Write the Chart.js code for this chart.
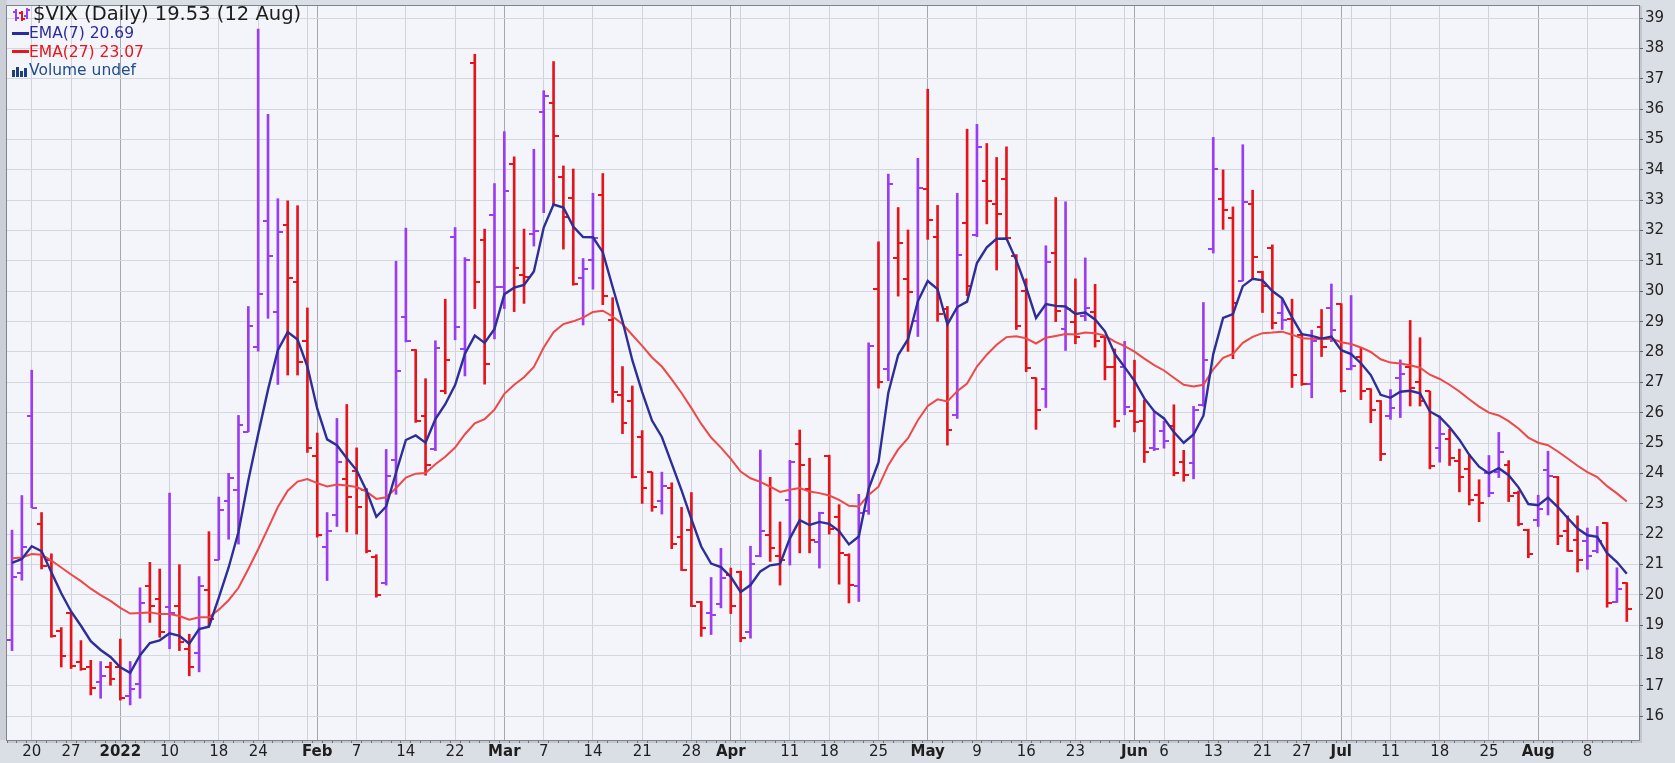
<!DOCTYPE html>
<html lang="en">
<head>
<meta charset="utf-8">
<title>$VIX (Daily)</title>
<script src="https://cdn.jsdelivr.net/npm/chart.js@4.4.1/dist/chart.umd.min.js"></script>
<style>
  html, body { margin: 0; padding: 0; background: #dadee5; }
  #wrap { position: relative; width: 1675px; height: 763px; overflow: hidden; }
  #vixChart { position: absolute; left: 0; top: 0; }
  .leg { position: absolute; white-space: nowrap; font-family: "DejaVu Sans", sans-serif; }
  #legTitle { left: 33px; top: 3px; font-size: 19.5px; line-height: 22px; color: #1c1c1c; }
  #legEma7 { left: 29px; top: 24px; font-size: 15.5px; line-height: 18px; color: #2c2c9e; }
  #legEma27 { left: 29px; top: 42.5px; font-size: 15.5px; line-height: 18px; color: #e3171c; }
  #legVol { left: 29px; top: 61px; font-size: 15.5px; line-height: 18px; color: #1f4d8c; }
  .dash { position: absolute; left: 12px; width: 17px; height: 3px; }
  .icon { position: absolute; }
</style>
</head>
<body>
<div id="wrap">
  <canvas id="vixChart" width="1675" height="763"></canvas>

  <svg class="icon" style="left:12px;top:8px" width="18" height="14" viewBox="0 0 18 14">
    <g stroke-width="2" fill="none">
      <path stroke="#9a3cf2" d="M4 1v12M1 4h3M4 10h3"/>
      <path stroke="#e5141b" d="M10 3v10M7 5h3M10 11h3"/>
      <path stroke="#9a3cf2" d="M15 0v11M12 8h3M15 2h3"/>
    </g>
  </svg>
  <div class="leg" id="legTitle"></div>

  <div class="dash" style="top:31.5px;background:#2c2c9e"></div>
  <div class="leg" id="legEma7"></div>

  <div class="dash" style="top:50px;background:#e3171c"></div>
  <div class="leg" id="legEma27"></div>

  <svg class="icon" style="left:12px;top:66px" width="17" height="11" viewBox="0 0 17 11">
    <g fill="#1f3f7a">
      <rect x="0" y="4" width="3" height="7"/>
      <rect x="4" y="1" width="3" height="10"/>
      <rect x="8" y="5" width="3" height="6"/>
      <rect x="12" y="2" width="3" height="9"/>
    </g>
  </svg>
  <div class="leg" id="legVol">Volume undef</div>
</div>

<script>
// trading days shown on the chart
const dates = [
  '2021-12-16','2021-12-17','2021-12-20','2021-12-21','2021-12-22','2021-12-23','2021-12-27','2021-12-28','2021-12-29','2021-12-30','2021-12-31',
  '2022-01-03','2022-01-04','2022-01-05','2022-01-06','2022-01-07','2022-01-10','2022-01-11','2022-01-12','2022-01-13','2022-01-14',
  '2022-01-18','2022-01-19','2022-01-20','2022-01-21','2022-01-24','2022-01-25','2022-01-26','2022-01-27','2022-01-28','2022-01-31',
  '2022-02-01','2022-02-02','2022-02-03','2022-02-04','2022-02-07','2022-02-08','2022-02-09','2022-02-10','2022-02-11','2022-02-14',
  '2022-02-15','2022-02-16','2022-02-17','2022-02-18','2022-02-22','2022-02-23','2022-02-24','2022-02-25','2022-02-28',
  '2022-03-01','2022-03-02','2022-03-03','2022-03-04','2022-03-07','2022-03-08','2022-03-09','2022-03-10','2022-03-11','2022-03-14',
  '2022-03-15','2022-03-16','2022-03-17','2022-03-18','2022-03-21','2022-03-22','2022-03-23','2022-03-24','2022-03-25','2022-03-28',
  '2022-03-29','2022-03-30','2022-03-31',
  '2022-04-01','2022-04-04','2022-04-05','2022-04-06','2022-04-07','2022-04-08','2022-04-11','2022-04-12','2022-04-13','2022-04-14',
  '2022-04-18','2022-04-19','2022-04-20','2022-04-21','2022-04-22','2022-04-25','2022-04-26','2022-04-27','2022-04-28','2022-04-29',
  '2022-05-02','2022-05-03','2022-05-04','2022-05-05','2022-05-06','2022-05-09','2022-05-10','2022-05-11','2022-05-12','2022-05-13',
  '2022-05-16','2022-05-17','2022-05-18','2022-05-19','2022-05-20','2022-05-23','2022-05-24','2022-05-25','2022-05-26','2022-05-27','2022-05-31',
  '2022-06-01','2022-06-02','2022-06-03','2022-06-06','2022-06-07','2022-06-08','2022-06-09','2022-06-10','2022-06-13','2022-06-14',
  '2022-06-15','2022-06-16','2022-06-17','2022-06-21','2022-06-22','2022-06-23','2022-06-24','2022-06-27','2022-06-28','2022-06-29','2022-06-30',
  '2022-07-01','2022-07-05','2022-07-06','2022-07-07','2022-07-08','2022-07-11','2022-07-12','2022-07-13','2022-07-14','2022-07-15',
  '2022-07-18','2022-07-19','2022-07-20','2022-07-21','2022-07-22','2022-07-25','2022-07-26','2022-07-27','2022-07-28','2022-07-29',
  '2022-08-01','2022-08-02','2022-08-03','2022-08-04','2022-08-05','2022-08-08','2022-08-09','2022-08-10','2022-08-11','2022-08-12'
];

// one row per month (Dec .. Aug)
const opens = [
  18.50, 20.72, 25.90, 22.32, 21.15, 18.82, 19.39, 17.80, 17.62, 17.13, 17.62,
  17.62, 16.65, 17.05, 20.30, 19.87, 19.60, 19.63, 18.22, 18.09, 20.15, 21.15, 23.09, 23.46, 25.37, 28.18, 32.30, 29.33, 32.20, 30.30, 28.37,
  24.58, 21.56, 22.63, 23.81, 24.09, 23.46, 21.26, 20.38, 24.44, 29.15, 28.08, 25.90, 24.81, 26.70, 31.80, 28.10, 37.51, 31.69, 32.50,
  30.14, 34.20, 30.53, 31.90, 35.91, 36.20, 33.75, 33.06, 30.44, 31.04, 33.17, 29.07, 26.57, 26.40, 25.20, 24.04, 23.09, 23.53, 21.89, 22.15, 19.76, 19.40, 19.69,
  20.65, 20.75, 18.78, 21.28, 21.98, 21.28, 23.12, 24.97, 23.47, 21.75, 24.56, 22.56, 21.31, 20.28, 22.75, 30.09, 27.43, 31.11, 30.40, 29.01,
  33.38, 31.80, 29.43, 25.93, 32.24, 31.86, 33.65, 32.87, 33.71, 31.15, 30.01, 27.13, 26.78, 31.26, 28.76, 28.98, 29.20, 29.33, 28.49, 27.50, 27.51,
  26.07, 25.74, 24.85, 25.39, 25.55, 24.39, 24.33, 26.26, 31.39, 33.05, 32.43, 30.34, 32.89, 30.63, 31.42, 29.28, 29.09, 28.55, 26.95, 28.83, 29.45,
  29.57, 27.45, 27.82, 26.78, 26.40, 25.90, 27.14, 27.52, 27.00, 26.70, 24.84, 25.13, 24.42, 24.15, 23.30, 24.00, 24.04, 24.26, 23.36, 22.14,
  22.47, 24.10, 23.88, 22.09, 21.82, 21.76, 21.43, 22.36, 19.77, 20.38
];
const highs = [
  22.13, 23.27, 27.40, 22.71, 21.35, 18.92, 19.41, 18.49, 17.84, 17.80, 17.78,
  18.54, 17.80, 20.23, 21.07, 20.85, 23.35, 20.99, 18.70, 20.60, 22.08, 23.22, 24.00, 25.91, 29.50, 38.64, 35.83, 33.05, 32.98, 32.82, 29.45,
  25.33, 22.71, 25.81, 26.27, 24.84, 23.50, 21.32, 24.79, 30.99, 32.08, 28.08, 27.12, 28.37, 29.74, 32.10, 31.11, 37.81, 32.05, 33.55,
  35.26, 34.43, 32.05, 34.68, 36.61, 37.57, 34.13, 34.03, 31.08, 33.23, 33.88, 29.79, 27.52, 26.88, 25.41, 24.04, 24.04, 23.69, 22.88, 23.37, 19.78, 20.57, 21.53,
  20.88, 20.78, 21.60, 24.77, 23.87, 22.40, 24.43, 25.43, 24.50, 22.72, 24.60, 22.97, 21.35, 23.31, 28.30, 31.63, 33.86, 32.76, 32.02, 34.38,
  36.66, 32.83, 29.50, 33.23, 35.34, 35.50, 34.87, 34.41, 34.76, 31.21, 30.41, 27.15, 31.50, 33.09, 32.95, 30.41, 31.10, 30.23, 28.54, 28.10, 28.35,
  27.73, 26.42, 26.04, 25.72, 26.26, 24.76, 26.21, 29.63, 35.07, 34.00, 32.78, 34.83, 33.33, 30.66, 31.53, 29.74, 29.74, 28.61, 28.72, 29.40, 30.24,
  29.59, 29.86, 28.12, 26.79, 26.40, 26.76, 27.74, 29.04, 28.47, 26.71, 25.89, 25.46, 24.80, 24.62, 23.79, 24.59, 25.35, 24.42, 23.42, 22.16,
  23.28, 24.73, 23.90, 22.60, 22.60, 22.20, 22.25, 22.38, 20.89, 20.40
];
const lows = [
  18.16, 20.48, 22.87, 20.85, 18.60, 17.62, 17.57, 17.51, 16.70, 16.59, 17.02,
  16.53, 16.37, 16.59, 19.09, 18.60, 18.22, 18.16, 17.33, 17.46, 18.98, 21.15, 21.83, 21.67, 25.37, 28.03, 29.11, 26.93, 27.24, 27.24, 24.69,
  21.90, 20.47, 22.25, 22.07, 22.00, 21.38, 19.92, 20.32, 23.31, 28.33, 25.68, 23.94, 24.75, 26.62, 28.40, 27.21, 29.43, 26.94, 28.43,
  29.43, 29.33, 29.60, 31.49, 32.59, 32.85, 31.39, 30.20, 28.89, 30.07, 29.56, 26.34, 25.31, 23.85, 23.01, 22.75, 22.66, 21.52, 20.80, 19.61, 18.63, 18.69, 19.57,
  19.38, 18.45, 18.57, 21.25, 21.10, 20.32, 20.98, 21.38, 21.38, 20.88, 22.00, 20.35, 19.73, 19.78, 22.65, 26.81, 27.05, 29.84, 28.02, 28.51,
  31.71, 29.01, 24.93, 25.81, 29.85, 31.80, 32.22, 30.70, 31.70, 28.74, 27.35, 25.45, 26.17, 29.00, 28.05, 28.27, 29.03, 28.16, 27.08, 25.52, 25.93,
  25.37, 24.36, 24.75, 24.83, 23.92, 23.74, 23.82, 26.21, 31.26, 32.04, 27.78, 30.34, 30.41, 29.30, 28.76, 28.74, 26.83, 26.90, 26.49, 27.85, 28.34,
  26.68, 27.41, 26.43, 25.67, 24.42, 25.78, 25.84, 26.22, 26.22, 24.15, 24.37, 24.26, 23.39, 22.96, 22.41, 23.23, 23.86, 23.07, 22.27, 21.22,
  22.25, 22.63, 21.65, 21.43, 20.75, 20.84, 21.38, 19.59, 19.75, 19.12
];
const closes = [
  20.57, 21.57, 22.87, 20.95, 18.65, 17.98, 17.65, 17.56, 16.93, 17.33, 17.24,
  16.60, 16.89, 19.73, 19.63, 18.76, 19.40, 18.43, 17.62, 20.30, 19.19, 22.80, 23.85, 25.60, 28.87, 29.90, 31.15, 31.95, 30.45, 27.68, 24.84,
  21.97, 22.09, 24.37, 23.21, 22.88, 21.44, 20.00, 23.91, 27.37, 28.35, 25.71, 24.29, 28.12, 27.75, 28.81, 31.02, 30.32, 27.59, 30.15,
  33.32, 30.76, 30.48, 31.98, 36.45, 35.13, 32.45, 30.23, 30.75, 31.77, 29.83, 26.67, 25.67, 23.87, 23.53, 22.90, 23.57, 21.67, 20.81, 19.63, 18.90, 19.33, 20.56,
  19.63, 18.57, 21.03, 22.10, 21.55, 21.16, 24.37, 24.26, 21.82, 22.70, 22.17, 21.37, 20.32, 22.68, 28.21, 27.02, 33.52, 31.60, 29.99, 33.40,
  32.34, 29.25, 25.42, 31.20, 30.19, 34.75, 32.99, 32.56, 31.77, 28.87, 27.47, 26.10, 30.96, 29.35, 29.43, 28.48, 29.45, 28.37, 27.50, 25.72, 26.19,
  25.69, 24.72, 24.79, 25.07, 24.02, 23.96, 26.09, 27.75, 34.02, 32.69, 29.62, 32.95, 31.13, 30.19, 28.95, 29.05, 27.23, 26.95, 28.36, 28.16, 28.71,
  26.70, 27.54, 26.73, 26.08, 24.64, 26.17, 27.29, 26.82, 26.40, 24.23, 25.30, 24.50, 23.88, 23.11, 23.03, 23.36, 24.69, 23.24, 22.33, 21.33,
  22.84, 23.93, 21.95, 21.44, 21.15, 21.29, 21.77, 19.74, 20.20, 19.53
];
const ema7 = [
  21.05, 21.18, 21.60, 21.44, 20.74, 20.05, 19.45, 18.98, 18.47, 18.18, 17.95,
  17.61, 17.43, 18.01, 18.41, 18.50, 18.73, 18.65, 18.39, 18.87, 18.95, 19.91, 20.90, 22.07, 23.77, 25.30, 26.76, 28.06, 28.66, 28.41, 27.52,
  26.13, 25.12, 24.93, 24.50, 24.10, 23.43, 22.57, 22.91, 24.02, 25.10, 25.25, 25.01, 25.79, 26.28, 26.91, 27.94, 28.54, 28.30, 28.76,
  29.90, 30.12, 30.21, 30.65, 32.10, 32.86, 32.76, 32.13, 31.79, 31.78, 31.29, 30.14, 29.02, 27.73, 26.68, 25.74, 25.20, 24.32, 23.44, 22.49, 21.59, 21.03, 20.91,
  20.59, 20.09, 20.32, 20.77, 20.97, 21.02, 21.86, 22.46, 22.30, 22.40, 22.34, 22.10, 21.66, 21.92, 23.49, 24.37, 26.66, 27.90, 28.42, 29.67,
  30.34, 30.07, 28.91, 29.48, 29.66, 30.93, 31.45, 31.73, 31.74, 31.02, 30.13, 29.12, 29.58, 29.52, 29.50, 29.25, 29.30, 29.07, 28.68, 27.94, 27.50,
  27.05, 26.47, 26.05, 25.81, 25.36, 25.01, 25.28, 25.90, 27.93, 29.12, 29.25, 30.17, 30.41, 30.36, 30.01, 29.77, 29.14, 28.59, 28.53, 28.44, 28.51,
  28.06, 27.93, 27.63, 27.24, 26.59, 26.49, 26.69, 26.72, 26.64, 26.04, 25.86, 25.52, 25.11, 24.61, 24.22, 24.00, 24.17, 23.94, 23.54, 22.99,
  22.95, 23.20, 22.89, 22.53, 22.18, 21.96, 21.91, 21.37, 21.08, 20.69
];
const ema27 = [
  21.20, 21.23, 21.34, 21.32, 21.13, 20.90, 20.67, 20.45, 20.20, 19.99, 19.80,
  19.57, 19.38, 19.40, 19.42, 19.37, 19.37, 19.30, 19.18, 19.26, 19.26, 19.51, 19.82, 20.23, 20.85, 21.50, 22.19, 22.89, 23.43, 23.73, 23.81,
  23.68, 23.57, 23.63, 23.60, 23.55, 23.40, 23.16, 23.21, 23.51, 23.86, 23.99, 24.01, 24.30, 24.55, 24.85, 25.29, 25.65, 25.79, 26.10,
  26.62, 26.92, 27.17, 27.51, 28.15, 28.65, 28.92, 29.01, 29.13, 29.32, 29.36, 29.17, 28.92, 28.56, 28.20, 27.82, 27.52, 27.10, 26.65, 26.15, 25.63, 25.18, 24.85,
  24.48, 24.06, 23.84, 23.72, 23.56, 23.39, 23.46, 23.52, 23.40, 23.35, 23.27, 23.13, 22.93, 22.91, 23.29, 23.56, 24.27, 24.79, 25.16, 25.75,
  26.22, 26.44, 26.37, 26.71, 26.96, 27.52, 27.91, 28.24, 28.49, 28.52, 28.45, 28.28, 28.47, 28.53, 28.59, 28.58, 28.64, 28.62, 28.54, 28.34, 28.19,
  28.01, 27.78, 27.57, 27.39, 27.15, 26.92, 26.86, 26.92, 27.43, 27.81, 27.94, 28.30, 28.50, 28.62, 28.64, 28.67, 28.57, 28.45, 28.44, 28.42, 28.44,
  28.32, 28.26, 28.15, 28.00, 27.76, 27.65, 27.62, 27.56, 27.48, 27.25, 27.11, 26.92, 26.70, 26.44, 26.20, 26.00, 25.91, 25.72, 25.48, 25.18,
  25.01, 24.93, 24.72, 24.49, 24.25, 24.04, 23.88, 23.58, 23.34, 23.07
];
const yTicks = [16, 17, 18, 19, 20, 21, 22, 23, 24, 25, 26, 27, 28, 29, 30, 31, 32, 33, 34, 35, 36, 37, 38, 39];
const monthNames = ['Jan', 'Feb', 'Mar', 'Apr', 'May', 'Jun', 'Jul', 'Aug', 'Sep', 'Oct', 'Nov', 'Dec'];

const UP = '#9a3cf2';
const DOWN = '#e5141b';
const FONT = 'DejaVu Sans';

// x positions are bar indexes; weekly / monthly grid lines come from the dates
const idx = dates.map((d, j) => j);
const days = dates.map(d => new Date(d + 'T00:00:00Z'));
const monthStarts = idx.filter(j => j > 0 && days[j].getUTCMonth() !== days[j - 1].getUTCMonth());
const weekStarts = idx.filter(j => j > 0 && days[j].getUTCDay() <= days[j - 1].getUTCDay());
const monthIdx = new Set(monthStarts);
const gridIdx = [...new Set([...weekStarts, ...monthStarts])].sort((a, b) => a - b);
const tickLabel = new Map();
gridIdx.forEach(j => {
    const d = days[j];
    if (monthIdx.has(j)) {
        tickLabel.set(j, d.getUTCMonth() === 0 ? String(d.getUTCFullYear()) : monthNames[d.getUTCMonth()]);
    } else if (!monthStarts.some(m => Math.abs(m - j) <= 2)) {
        tickLabel.set(j, String(d.getUTCDate()));
    }
});

// bar colour: purple when the close is up on the previous close, red otherwise
const isUp = closes.map((c, j) => c >= (j > 0 ? closes[j - 1] : opens[j]));

// open tick sits left of the bar, close tick right of it
const tickImage = (color, side) => {
    const c = document.createElement('canvas');
    c.width = 10;
    c.height = 2;
    const g = c.getContext('2d');
    g.fillStyle = color;
    g.fillRect(side === 'left' ? 0 : 5, 0, 5, 2);
    return c;
};
const openUp = tickImage(UP, 'left'), openDown = tickImage(DOWN, 'left');
const closeUp = tickImage(UP, 'right'), closeDown = tickImage(DOWN, 'right');

// legend text
const last = closes.length - 1;
const lastDay = days[last];
document.getElementById('legTitle').textContent =
    '$VIX (Daily) ' + closes[last].toFixed(2) + ' (' + lastDay.getUTCDate() + ' ' + monthNames[lastDay.getUTCMonth()] + ')';
document.getElementById('legEma7').textContent = 'EMA(7) ' + ema7[last].toFixed(2);
document.getElementById('legEma27').textContent = 'EMA(27) ' + ema27[last].toFixed(2);

const panel = {
    id: 'panel',
    beforeDraw(chart) {
        const { ctx, chartArea: a, width, height } = chart;
        ctx.save();
        ctx.fillStyle = '#dadee5';
        ctx.fillRect(0, 0, width, height);
        ctx.fillStyle = '#cbcfd7';
        ctx.fillRect(0, 0, a.left, a.bottom);
        ctx.fillStyle = '#c3c7cf';
        ctx.fillRect(a.right, a.top, 3, a.bottom - a.top + 3);
        ctx.fillRect(a.left, a.bottom, a.right - a.left + 3, 3);
        ctx.fillStyle = '#f4f5fa';
        ctx.fillRect(a.left, a.top, a.right - a.left, a.bottom - a.top);
        ctx.restore();
    },
    afterDraw(chart) {
        const { ctx, chartArea: a } = chart;
        ctx.save();
        ctx.strokeStyle = '#7f848c';
        ctx.lineWidth = 1;
        ctx.strokeRect(a.left - 0.5, a.top - 0.5, a.right - a.left + 1, a.bottom - a.top + 1);
        ctx.restore();
    }
};

const xMin = -0.51, xMax = 165.24;

new Chart(document.getElementById('vixChart'), {
    type: 'bar',
    data: {
        datasets: [
            {
                type: 'bar',
                label: 'High-Low',
                data: idx.map(j => ({ x: j, y: [lows[j], highs[j]] })),
                backgroundColor: isUp.map(u => u ? UP : DOWN),
                borderWidth: 0,
                barThickness: 2,
                order: 4
            },
            {
                type: 'line',
                label: 'Open',
                data: idx.map(j => ({ x: j, y: opens[j] })),
                showLine: false,
                pointStyle: isUp.map(u => u ? openUp : openDown),
                pointRadius: 5,
                order: 3
            },
            {
                type: 'line',
                label: 'Close',
                data: idx.map(j => ({ x: j, y: closes[j] })),
                showLine: false,
                pointStyle: isUp.map(u => u ? closeUp : closeDown),
                pointRadius: 5,
                order: 3
            },
            {
                type: 'line',
                label: 'EMA(27)',
                data: idx.map(j => ({ x: j, y: ema27[j] })),
                borderColor: '#ee4848',
                borderWidth: 2,
                pointRadius: 0,
                tension: 0,
                fill: false,
                order: 2
            },
            {
                type: 'line',
                label: 'EMA(7)',
                data: idx.map(j => ({ x: j, y: ema7[j] })),
                borderColor: '#2e2e98',
                borderWidth: 2.4,
                pointRadius: 0,
                tension: 0,
                fill: false,
                order: 1
            }
        ]
    },
    options: {
        responsive: false,
        animation: false,
        devicePixelRatio: 1,
        events: [],
        layout: { padding: { left: 7, top: 1, right: 0, bottom: 0 } },
        plugins: {
            legend: { display: false },
            tooltip: { enabled: false }
        },
        scales: {
            x: {
                type: 'linear',
                position: 'bottom',
                min: xMin,
                max: xMax,
                offset: false,
                weight: 0,
                afterBuildTicks: scale => { scale.ticks = gridIdx.map(v => ({ value: v })); },
                afterFit: scale => { scale.height = 23; scale.paddingLeft = 0; scale.paddingRight = 0; },
                grid: {
                    offset: false,
                    drawTicks: false,
                    color: ctx => (ctx.tick && monthIdx.has(ctx.tick.value)) ? '#a3a7af' : '#d0d3da',
                    lineWidth: 1
                },
                border: { display: false },
                ticks: {
                    autoSkip: false,
                    maxRotation: 0,
                    padding: 3,
                    color: '#1e1e1e',
                    font: ctx => ({
                        family: FONT,
                        size: 15,
                        weight: (ctx.tick && monthIdx.has(ctx.tick.value)) ? 'bold' : 'normal'
                    }),
                    callback: v => tickLabel.get(v) || ''
                }
            },
            xDays: {
                type: 'linear',
                position: 'bottom',
                min: xMin,
                max: xMax,
                offset: false,
                weight: -1,
                afterBuildTicks: scale => { scale.ticks = idx.map(v => ({ value: v })); },
                afterFit: scale => { scale.height = 0; scale.paddingLeft = 0; scale.paddingRight = 0; },
                grid: { drawOnChartArea: false, drawTicks: true, tickLength: 3, color: '#70757d' },
                border: { display: false },
                ticks: { display: false }
            },
            y: {
                type: 'linear',
                position: 'right',
                min: 15.215,
                max: 39.40,
                beginAtZero: false,
                afterBuildTicks: scale => { scale.ticks = yTicks.map(v => ({ value: v })); },
                afterFit: scale => { scale.width = 36; scale.paddingTop = 0; scale.paddingBottom = 0; },
                grid: { color: '#d3d7de', tickLength: 4, tickColor: '#5f636b' },
                border: { display: false },
                ticks: {
                    padding: 2,
                    color: '#222',
                    font: { family: FONT, size: 15 },
                    callback: v => String(v)
                }
            }
        }
    },
    plugins: [panel]
});
</script>
</body>
</html>
